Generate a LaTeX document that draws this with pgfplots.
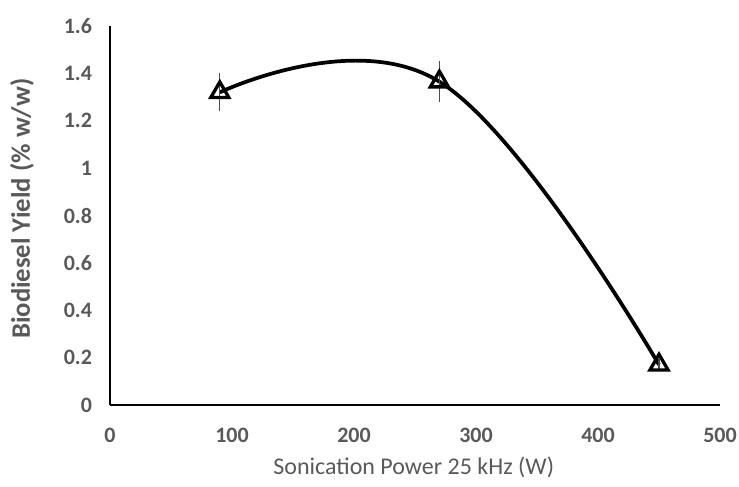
\documentclass[border=0pt]{standalone}
\usepackage{pgfplots}
\pgfplotsset{compat=1.18}
\usepackage{fontspec}
\setmainfont{Carlito}
\definecolor{txtgray}{RGB}{89,89,89}
\begin{document}
\begin{tikzpicture}
\useasboundingbox (-82.5pt,-60.75pt) rectangle (471.75pt,303.75pt);
\begin{axis}[
    scale only axis,
    width=457.5pt,
    height=284.25pt,
    xmin=0, xmax=500,
    ymin=0, ymax=1.6,
    xtick={0,100,...,500},
    ytick={0,0.2,...,1.6},
    axis x line=bottom,
    axis y line=left,
    axis line style={line width=1.4pt, black, -},
    major tick length=0pt,
    tick style={draw=none},
    ticklabel style={font=\fontsize{16.5}{18}\selectfont\bfseries, text=txtgray},
    /pgf/number format/assume math mode=true,
    yticklabel style={anchor=east, xshift=-10pt,
        /pgf/number format/fixed, /pgf/number format/precision=1},
    xticklabel style={anchor=center, yshift=-23pt},
    xlabel={Sonication Power 25 kHz (W)},
    ylabel={Biodiesel Yield (\% w/w)},
    xlabel style={font=\fontsize{18}{20}\selectfont, text=txtgray,
        at={(axis description cs:0.498,0)}, anchor=center, yshift=-47pt},
    ylabel style={font=\fontsize{20}{22}\selectfont\bfseries, text=txtgray,
        at={(axis description cs:0,0.518)}, anchor=center, yshift=66pt},
    clip=false,
]
\addplot[smooth, tension=0.7, line width=2.8pt, black] coordinates {
    (90,1.32) (270,1.365) (450,0.17)
};
\addplot[only marks, mark=triangle, mark size=7.8pt,
    mark options={line width=2.5pt, black, fill=none},
    error bars/.cd, y dir=both, y explicit,
    error bar style={line width=1pt, black!70},
    error mark=-, error mark options={line width=1pt, black!70, mark size=2.8pt}]
coordinates {
    (90,1.32) +- (0,0.065)
    (270,1.365) +- (0,0.07)
    (450,0.17) +- (0,0.01)
};
\end{axis}
\end{tikzpicture}
\end{document}
